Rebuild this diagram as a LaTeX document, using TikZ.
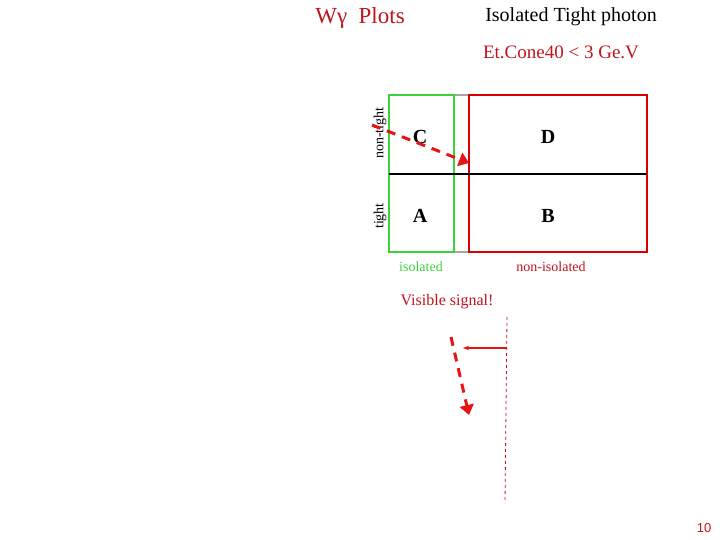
\documentclass[tikz,border=0pt]{standalone}
\usepackage{fontspec}
\setmainfont{Liberation Serif}
\newfontfamily\arialf{Liberation Sans}
\usetikzlibrary{arrows.meta}
\definecolor{dred}{RGB}{190,20,30}
\definecolor{bred}{RGB}{230,20,20}
\definecolor{gr}{RGB}{60,210,60}
\begin{document}
\begin{tikzpicture}[x=1pt,y=-1pt,
  lab/.style={font=\fontsize{20}{20}\selectfont\bfseries},
  side/.style={font=\fontsize{14}{14}\selectfont,rotate=90},
  bigdash/.style={bred,line width=3pt,dash pattern=on 9pt off 7pt}]
\useasboundingbox (0,0) rectangle (720,540);
\node (t1) at (360,18) {\textcolor{dred}{\fontsize{23}{23}\selectfont Wγ\ \ Plots}};
\node (t2) at (571,17) {\fontsize{20}{20}\selectfont Isolated Tight photon};
\node[text=dred] (t3) at (561,52) {\fontsize{19}{19}\selectfont Et.Cone40 < 3 Ge.V};
\draw[gray!70,line width=1.5pt] (454,95) -- (469,95) (454,252) -- (469,252);
\draw[gr,line width=1.5pt] (389,95) rectangle (454,252);
\draw[red!85!black,line width=1.5pt] (469,95) rectangle (647,252);
\draw[black,line width=1.5pt] (389,174) -- (647,174);
\node[lab] (c) at (420,137) {C};
\node[lab] (d) at (548,137) {D};
\node[lab] (a) at (420,216) {A};
\node[lab] (b) at (548,216) {B};
\node[side] (nt) at (380,133) {non-tight};
\node[side] (tt) at (380,216) {tight};
\node[text=gr,font=\fontsize{14}{14}\selectfont] (iso) at (421,267) {isolated};
\node[text=dred,font=\fontsize{14}{14}\selectfont] (niso) at (551,267) {non-isolated};
\node[text=dred,font=\fontsize{16}{16}\selectfont] (vs) at (447,302) {Visible signal!};
\coordinate (p1) at (372,125); \coordinate (p2) at (469,163);
\draw[bigdash,-{Triangle[length=10pt,width=14pt]}] (p1) -- (p2);
\coordinate (v1) at (507,317); \coordinate (v2) at (505,503);
\draw[dred,dashed,line width=0.8pt] (v1) -- (v2);
\coordinate (h1) at (507,348); \coordinate (h2) at (463,348);
\draw[bred,line width=1.2pt,-{Stealth[length=6pt]}] (h1) -- (h2);
\coordinate (q1) at (451,337); \coordinate (q2) at (469,415);
\draw[bigdash,-{Triangle[length=10pt,width=14pt]}] (q1) -- (q2);
\node[text=dred,font=\arialf\fontsize{13}{13}\selectfont] (pg) at (704,528) {10};
\end{tikzpicture}
\end{document}
